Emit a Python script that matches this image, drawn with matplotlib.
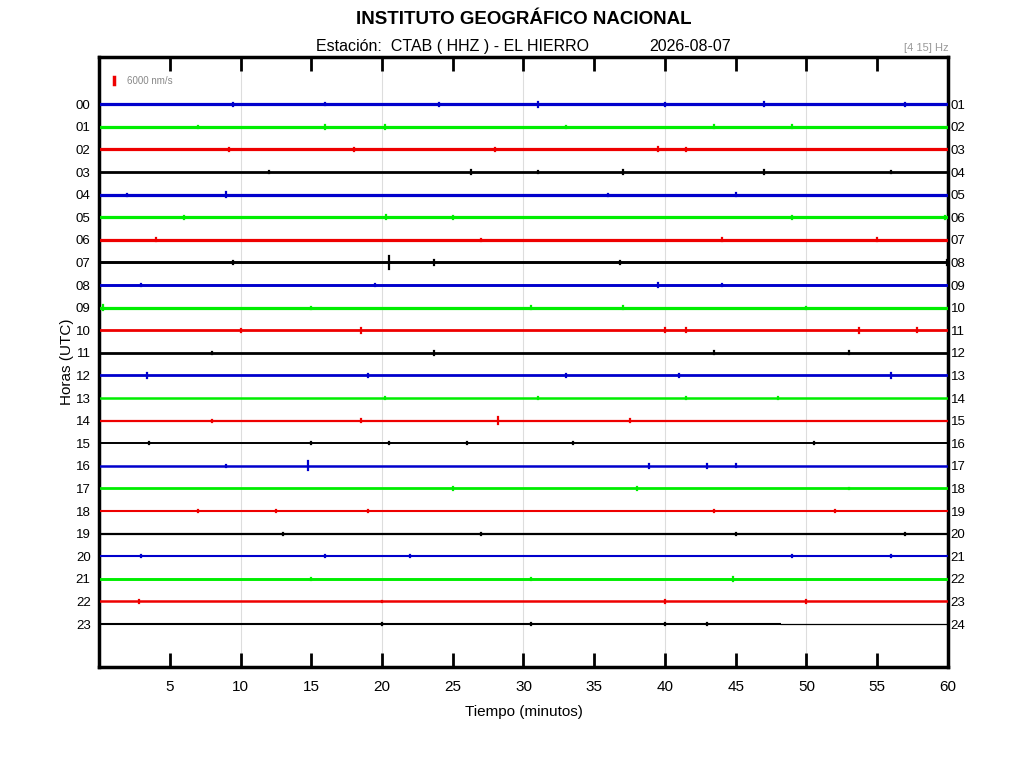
import matplotlib.pyplot as plt

plt.rcParams['font.family'] = ['Liberation Sans', 'DejaVu Sans']

hours = list(range(24))
left_labels = ['%02d' % h for h in hours]
right_labels = ['%02d' % (h + 1) for h in hours]
colors = ['#0000cc', '#00ee00', '#ee0000', '#000000']

# baseline noise thickness per hour (points)
noise = [2.3, 2.3, 2.3, 2.0, 2.3, 2.3, 2.3, 2.1, 2.1, 2.3, 2.0, 2.0,
         2.0, 1.8, 1.6, 1.4, 1.8, 2.0, 1.5, 1.6, 1.5, 2.1, 1.8, 1.5]

# visible bursts per hour: (minute, half amplitude in trace-spacing units)
events = {
    0: [(31.0, 0.12), (9.5, 0.07), (24.0, 0.07), (47.0, 0.08), (57.0, 0.07), (40.0, 0.06), (16.0, 0.05)],
    1: [(16.0, 0.09), (20.2, 0.08), (43.5, 0.07), (49.0, 0.06), (33.0, 0.05), (7.0, 0.05)],
    2: [(39.5, 0.09), (41.5, 0.08), (9.2, 0.06), (28.0, 0.06), (18.0, 0.05)],
    3: [(26.3, 0.1), (37.0, 0.08), (47.0, 0.07), (56.0, 0.06), (31.0, 0.06), (12.0, 0.05)],
    4: [(9.0, 0.12), (45.0, 0.08), (2.0, 0.05), (36.0, 0.05)],
    5: [(20.3, 0.1), (6.0, 0.06), (25.0, 0.06), (49.0, 0.06), (59.8, 0.06)],
    6: [(4.0, 0.07), (55.0, 0.06), (44.0, 0.06), (27.0, 0.05)],
    7: [(20.5, 0.3), (23.7, 0.1), (36.8, 0.08), (59.9, 0.1), (9.5, 0.05)],
    8: [(19.5, 0.06), (39.5, 0.08), (44.0, 0.06), (3.0, 0.05)],
    9: [(0.3, 0.1), (30.5, 0.08), (37.0, 0.08), (50.0, 0.05), (15.0, 0.05)],
    10: [(18.5, 0.12), (10.0, 0.07), (40.0, 0.08), (41.5, 0.08), (53.7, 0.1), (57.8, 0.08)],
    11: [(23.7, 0.1), (43.5, 0.06), (53.0, 0.06), (8.0, 0.05)],
    12: [(3.4, 0.1), (19.0, 0.08), (41.0, 0.07), (56.0, 0.1), (33.0, 0.05)],
    13: [(20.2, 0.06), (31.0, 0.05), (41.5, 0.06), (48.0, 0.05)],
    14: [(28.2, 0.16), (18.5, 0.06), (37.5, 0.06), (8.0, 0.05)],
    15: [(3.5, 0.04), (15.0, 0.04), (20.5, 0.05), (26.0, 0.04), (33.5, 0.04), (50.5, 0.04)],
    16: [(14.8, 0.2), (38.9, 0.1), (43.0, 0.08), (45.0, 0.06), (9.0, 0.05)],
    17: [(38.0, 0.07), (25.0, 0.05), (53.0, 0.04)],
    18: [(7.0, 0.05), (19.0, 0.06), (12.5, 0.04), (43.5, 0.04), (52.0, 0.04)],
    19: [(13.0, 0.05), (27.0, 0.05), (45.0, 0.05), (57.0, 0.05)],
    20: [(3.0, 0.05), (16.0, 0.05), (22.0, 0.05), (49.0, 0.05), (56.0, 0.05)],
    21: [(44.8, 0.1), (30.5, 0.05), (15.0, 0.04)],
    22: [(2.8, 0.08), (40.0, 0.06), (50.0, 0.06), (20.0, 0.04)],
    23: [(30.5, 0.05), (20.0, 0.05), (40.0, 0.04), (43.0, 0.05)],
}
last_minute = 48.2  # data end on the last trace

fig = plt.figure(figsize=(10.24, 7.68), dpi=100)
ax = fig.add_axes([0.0967, 0.1315, 0.829, 0.794])

for h in hours:
    c = colors[h % 4]
    end = last_minute if h == 23 else 60
    ax.plot([0, end], [h, h], color=c, lw=noise[h], solid_capstyle='butt', zorder=3)
    for m, a in events[h]:
        if m <= end:
            ax.plot([m, m], [h - a, h + a], color=c, lw=1.6, zorder=3)
ax.plot([last_minute, 60], [23, 23], color='black', lw=0.9, zorder=3)

# amplitude scale
ax.plot([1.06, 1.06], [-1.2, -0.88], color='#ee0000', lw=2.5)
ax.text(1.95, -1.04, '6000 nm/s', fontsize=7, color='#888888', va='center')

ax.set_xlim(0, 60)
ax.set_ylim(24.9, -2.08)
ax.set_xticks(range(5, 61, 5))
ax.set_xticklabels([str(v) for v in range(5, 61, 5)], fontsize=11)
for g in range(10, 60, 10):
    ax.axvline(g, color='#dddddd', lw=0.8, zorder=1)
ax.tick_params(axis='x', direction='in', length=10, width=2, top=True, pad=9)
ax.set_yticks(hours)
ax.set_yticklabels(left_labels, fontsize=9.5)
ax.tick_params(axis='y', length=0, pad=6)
for s in ax.spines.values():
    s.set_linewidth(2.5)

ax2 = ax.twinx()
ax2.set_ylim(24.9, -2.08)
ax2.set_yticks(hours)
ax2.set_yticklabels(right_labels, fontsize=9.5)
ax2.tick_params(axis='y', length=0, pad=2)

ax.set_xlabel('Tiempo (minutos)', fontsize=11, labelpad=8)
ax.set_ylabel('Horas (UTC)', fontsize=11, labelpad=1)

fig.text(0.512, 0.974, 'INSTITUTO GEOGRÁFICO NACIONAL', fontsize=13.5, fontweight='bold',
         ha='center', va='center')
fig.text(0.442, 0.940, 'Estación:  CTAB ( HHZ ) - EL HIERRO', fontsize=11.5, ha='center', va='center')
fig.text(0.674, 0.940, '2026-08-07', fontsize=11.5, ha='center', va='center')
fig.text(0.926, 0.937, '[4 15] Hz', fontsize=8, color='#999999', ha='right', va='center')

fig.savefig('out.png', dpi=100)
